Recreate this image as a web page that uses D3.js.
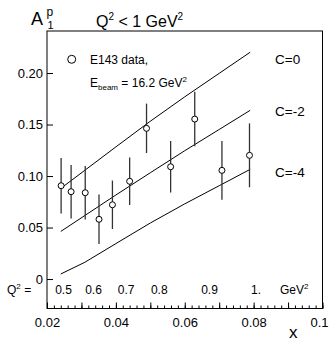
<!DOCTYPE html>
<html>
<head>
<meta charset="utf-8">
<script src="https://cdn.jsdelivr.net/npm/d3@7"></script>
<style>
  html, body { margin: 0; padding: 0; background: #fff; }
  svg { display: block; font-family: "Liberation Sans", Arial, Helvetica, sans-serif; }
</style>
</head>
<body>
<svg id="chart" width="329" height="341"></svg>
<script>
// E143 proton asymmetry data points (x, A1p, statistical error)
const dataX   = [0.0241, 0.0270, 0.0311, 0.0351, 0.0390, 0.0440, 0.0489, 0.0559, 0.0629, 0.0708, 0.0788];
const dataA1  = [0.0906, 0.0848, 0.0838, 0.0580, 0.0721, 0.0949, 0.1463, 0.1090, 0.1553, 0.1055, 0.1201];
const dataErr = [0.0270, 0.0260, 0.0260, 0.0240, 0.0235, 0.0230, 0.0240, 0.0250, 0.0265, 0.0285, 0.0310];

// Model curves for three values of the parameter C
const curveX   = [0.024, 0.031, 0.040, 0.050, 0.060, 0.070, 0.079];
const curveC0  = [0.0880, 0.1056, 0.1283, 0.1532, 0.1769, 0.1997, 0.2202];
const curveCm2 = [0.0462, 0.0617, 0.0816, 0.1032, 0.1246, 0.1452, 0.1638];
const curveCm4 = [0.0049, 0.0163, 0.0344, 0.0544, 0.0730, 0.0906, 0.1065];
const curveNames = ["C=0", "C=-2", "C=-4"];

// Axis ticks
const xMajorTicks  = [0.02, 0.03, 0.04, 0.05, 0.06, 0.07, 0.08, 0.09, 0.10];
const xLabelTicks  = [0.02, 0.04, 0.06, 0.08, 0.10];
const xLabelText   = ["0.02", "0.04", "0.06", "0.08", "0.1"];
const yTicks       = [0, 0.05, 0.10, 0.15, 0.20];
const yTickText    = ["0", "0.05", "0.10", "0.15", "0.20"];

// Q^2 values printed along the x axis at the corresponding x
const q2Text = ["0.5", "0.6", "0.7", "0.8", "0.9", "1."];
const q2X    = [0.0248, 0.0335, 0.0430, 0.0526, 0.0672, 0.0807];

const svg = d3.select("#chart");

const x = d3.scaleLinear().domain([0.02, 0.10]).range([47, 322.5]);
const y = d3.scaleLinear().domain([-0.0286, 0.2408]).range([308.5, 31]);

const [x0, x1] = x.range();
const [yb, yt] = y.range();

// Minor x ticks every 0.002
const xMinorTicks = d3.range(0, 41).map(i => 0.02 + i * 0.002).filter(v => v <= 0.1 + 1e-9);

// Frame
svg.append("rect")
  .attr("x", x0).attr("y", yt)
  .attr("width", x1 - x0).attr("height", yb - yt)
  .attr("fill", "none").attr("stroke", "#000").attr("stroke-width", 1);

// Bottom axis: minor ticks, major ticks, labels
const gx = svg.append("g").attr("transform", `translate(0,${yb})`);
gx.append("g").call(d3.axisBottom(x).tickValues(xMinorTicks).tickSize(-3).tickFormat(""));
gx.append("g").call(d3.axisBottom(x).tickValues(xMajorTicks).tickSize(-6).tickFormat(""));
const gxLab = gx.append("g").call(d3.axisBottom(x).tickValues(xLabelTicks).tickSize(0).tickPadding(9)
    .tickFormat((d, i) => xLabelText[i]));
gx.selectAll(".domain").remove();
gx.selectAll("line").attr("stroke", "#000");
gx.selectAll("text").attr("font-size", 13).attr("fill", "#000")
  .attr("font-family", "'Liberation Sans', Arial, sans-serif");
// keep the last label inside the canvas edge
gxLab.selectAll("text").filter(d => d >= 0.1).attr("dx", -3.5);

// Left axis
const gy = svg.append("g").attr("transform", `translate(${x0},0)`);
gy.call(d3.axisLeft(y).tickValues(yTicks).tickSize(-6).tickPadding(4)
  .tickFormat((d, i) => yTickText[i]));
gy.selectAll(".domain").remove();
gy.selectAll("line").attr("stroke", "#000");
gy.selectAll("text").attr("font-size", 13).attr("fill", "#000")
  .attr("font-family", "'Liberation Sans', Arial, sans-serif");

// Model curves
const line = d3.line().x(d => x(d[0])).y(d => y(d[1]));
[curveC0, curveCm2, curveCm4].forEach(c => {
  svg.append("path")
    .datum(curveX.map((v, i) => [v, c[i]]))
    .attr("d", line)
    .attr("fill", "none").attr("stroke", "#000").attr("stroke-width", 1);
});

// Curve labels
const curveLabelY = [0.2140, 0.1630, 0.1040];
svg.selectAll(".clabel").data(curveNames).enter().append("text")
  .attr("x", 275)
  .attr("y", (d, i) => y(curveLabelY[i]) + 5)
  .attr("font-size", 13.5)
  .text(d => d);

// Data: error bars then open circles
const pts = dataX.map((v, i) => ({ x: v, y: dataA1[i], e: dataErr[i] }));
svg.selectAll(".err").data(pts).enter().append("line")
  .attr("x1", d => x(d.x)).attr("x2", d => x(d.x))
  .attr("y1", d => y(d.y - d.e)).attr("y2", d => y(d.y + d.e))
  .attr("stroke", "#333").attr("stroke-width", 1.3);
svg.selectAll(".pt").data(pts).enter().append("circle")
  .attr("cx", d => x(d.x)).attr("cy", d => y(d.y)).attr("r", 3)
  .attr("fill", "#fff").attr("stroke", "#000").attr("stroke-width", 1);

// Q^2 row
svg.selectAll(".q2").data(q2Text).enter().append("text")
  .attr("x", (d, i) => x(q2X[i]))
  .attr("y", 294)
  .attr("text-anchor", "middle")
  .attr("font-size", 12)
  .text(d => d);
const gev = svg.append("text").attr("x", 280).attr("y", 294).attr("font-size", 12);
gev.append("tspan").text("GeV");
gev.append("tspan").attr("font-size", 8).attr("dy", -5).text("2");

const q2lab = svg.append("text").attr("x", 7).attr("y", 294).attr("font-size", 12);
q2lab.append("tspan").text("Q");
q2lab.append("tspan").attr("font-size", 8).attr("dy", -5).text("2");
q2lab.append("tspan").attr("dy", 5).text(" =");

// Axis title
svg.append("text").attr("x", 289).attr("y", 338).attr("font-size", 17).text("x");

// Plot title: A_1^p
svg.append("text").attr("x", 31).attr("y", 25).attr("font-size", 18).text("A");
svg.append("text").attr("x", 46.5).attr("y", 16).attr("font-size", 12).text("p");
svg.append("text").attr("x", 47.5).attr("y", 29).attr("font-size", 11).text("1");

const title = svg.append("text").attr("x", 96).attr("y", 27).attr("font-size", 16);
title.append("tspan").text("Q");
title.append("tspan").attr("font-size", 10).attr("dy", -7).text("2");
title.append("tspan").attr("dy", 7).text(" < 1 GeV");
title.append("tspan").attr("font-size", 10).attr("dy", -7).text("2");

// Legend
svg.append("circle").attr("cx", 71.7).attr("cy", 59.3).attr("r", 4)
  .attr("fill", "#fff").attr("stroke", "#000").attr("stroke-width", 1);
svg.append("text").attr("x", 90).attr("y", 64).attr("font-size", 12).text("E143 data,");
const leg2 = svg.append("text").attr("x", 90).attr("y", 87).attr("font-size", 12);
leg2.append("tspan").text("E");
leg2.append("tspan").attr("font-size", 8).attr("dy", 3).text("beam");
leg2.append("tspan").attr("dy", -3).text(" = 16.2 GeV");
leg2.append("tspan").attr("font-size", 8).attr("dy", -5).text("2");
</script>
</body>
</html>
